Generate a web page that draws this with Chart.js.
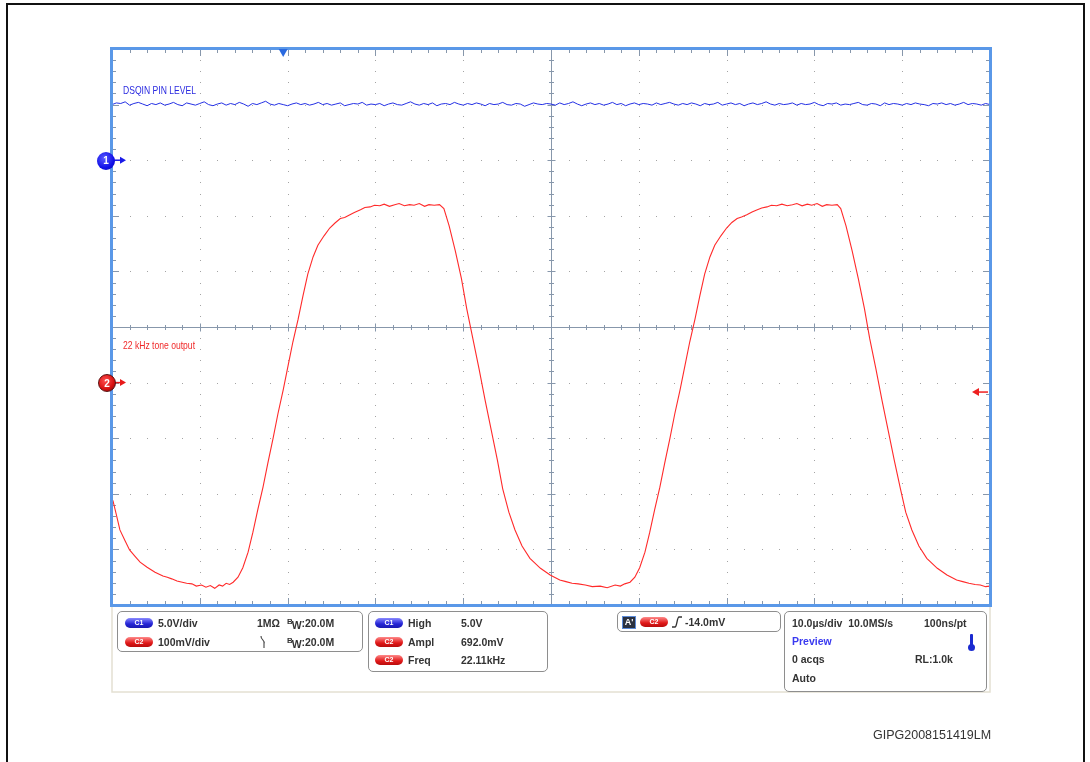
<!DOCTYPE html>
<html>
<head>
<meta charset="utf-8">
<script src="https://cdn.jsdelivr.net/npm/chart.js@4.4.1/dist/chart.umd.min.js"></script>
<style>
  body { margin: 0; background: #fff; overflow: hidden; }
  #wrap { position: relative; width: 1090px; height: 762px; }
  #scope { position: absolute; left: 0; top: 0; }
  .pageframe { position: absolute; left: 6px; top: 3px; width: 1079px; height: 800px; border: 2.5px solid #111; box-sizing: border-box; }
  .t { position: absolute; font-family: 'Liberation Sans', Arial, sans-serif; font-weight: bold; font-size: 10.5px; line-height: 12px; color: #333; white-space: nowrap; }
  .box { position: absolute; border: 1px solid #8e8e8e; border-radius: 5px; box-sizing: border-box; background: #fff; }
  .pill { position: absolute; width: 28px; height: 10px; border-radius: 5px; color: #fff; font: bold 7px 'Liberation Sans', Arial, sans-serif; line-height: 10px; text-align: center; }
  .p1 { background: linear-gradient(#8a8aff, #2424d6 60%, #1a1ab0); }
  .p2 { background: linear-gradient(#ff8a8a, #e01818 60%, #b80c0c); }
  .lbl { position: absolute; font-family: 'Liberation Sans', Arial, sans-serif; font-size: 11px; line-height: 12px; transform: scaleX(0.78); transform-origin: left center; white-space: nowrap; }
  .mk { position: absolute; width: 18px; height: 18px; border-radius: 50%; color: #fff; font: bold 10px 'Liberation Sans', Arial, sans-serif; line-height: 18px; text-align: center; box-sizing: border-box; }
  .bw b { font-size: 8px; position: relative; top: -3px; }
  .bw i { font-style: normal; position: relative; top: 2px; margin-left: -1px; }
</style>
</head>
<body>
<div id="wrap">
  <canvas id="scope" width="1090" height="762"></canvas>
  <div class="pageframe"></div>

  <div class="lbl" style="left:123px; top:84px; color:#2a2ae0;">DSQIN PIN LEVEL</div>
  <div class="lbl" style="left:123px; top:339px; color:#f02a2a;">22 kHz tone output</div>

  <div class="mk" style="left:97px; top:152px; background: radial-gradient(circle at 40% 35%, #5a5aff, #1010e8 60%, #0a0ab0);">1</div>
  <div class="mk" style="left:98px; top:374px; background: radial-gradient(circle at 40% 35%, #ff5050, #d81010 60%, #6a0808); border: 1px solid #5a1010;">2</div>

  <!-- vertical / horizontal settings -->
  <div class="box" style="left:117px; top:611px; width:246px; height:41px;"></div>
  <div class="pill p1" style="left:125px; top:618px;">C1</div>
  <div class="t" style="left:158px; top:617px;">5.0V/div</div>
  <div class="t" style="left:257px; top:617px;">1MΩ</div>
  <div class="t bw" style="left:287px; top:617px;"><b>B</b><i>W</i>:20.0M</div>
  <div class="pill p2" style="left:125px; top:637px;">C2</div>
  <div class="t" style="left:158px; top:636px;">100mV/div</div>
  <svg style="position:absolute; left:259px; top:635px;" width="8" height="14"><path d="M2,1 C2,6 6,4 5,9 L5,13" fill="none" stroke="#444" stroke-width="1.1"/></svg>
  <div class="t bw" style="left:287px; top:636px;"><b>B</b><i>W</i>:20.0M</div>

  <!-- measurements -->
  <div class="box" style="left:368px; top:611px; width:180px; height:61px;"></div>
  <div class="pill p1" style="left:375px; top:618px;">C1</div>
  <div class="t" style="left:408px; top:617px;">High</div>
  <div class="t" style="left:461px; top:617px;">5.0V</div>
  <div class="pill p2" style="left:375px; top:637px;">C2</div>
  <div class="t" style="left:408px; top:636px;">Ampl</div>
  <div class="t" style="left:461px; top:636px;">692.0mV</div>
  <div class="pill p2" style="left:375px; top:655px;">C2</div>
  <div class="t" style="left:408px; top:654px;">Freq</div>
  <div class="t" style="left:461px; top:654px;">22.11kHz</div>

  <!-- trigger -->
  <div class="box" style="left:617px; top:611px; width:164px; height:21px;"></div>
  <div style="position:absolute; left:622px; top:616px; width:14px; height:13px; background:#2a3140; border:1px solid #5a8ad8; box-sizing:border-box; color:#fff; font:bold 9px 'Liberation Sans', Arial, sans-serif; line-height:11px; text-align:center;">A'</div>
  <div class="pill p2" style="left:640px; top:617px;">C2</div>
  <svg style="position:absolute; left:671px; top:615px;" width="12" height="14"><path d="M1,12 L4,12 C6,12 6,2 8,2 L11,2" fill="none" stroke="#333" stroke-width="1.3"/></svg>
  <div class="t" style="left:685px; top:616px;">-14.0mV</div>

  <!-- timebase -->
  <div class="box" style="left:784px; top:611px; width:203px; height:81px;"></div>
  <div class="t" style="left:792px; top:617px;">10.0µs/div&nbsp; 10.0MS/s</div>
  <div class="t" style="left:924px; top:617px;">100ns/pt</div>
  <div class="t" style="left:792px; top:635px; color:#3a3af0;">Preview</div>
  <div style="position:absolute; left:970px; top:634px; width:3px; height:12px; background:#1a2ad0; border-radius:1px;"></div>
  <div style="position:absolute; left:968px; top:644px; width:7px; height:7px; background:#1a2ad0; border-radius:50%;"></div>
  <div class="t" style="left:792px; top:653px;">0 acqs</div>
  <div class="t" style="left:915px; top:653px;">RL:1.0k</div>
  <div class="t" style="left:792px; top:672px;">Auto</div>

  <div class="t" style="left:873px; top:728px; font-weight:normal; font-size:12.5px; line-height:14px; color:#333;">GIPG2008151419LM</div>
</div>

<script>
// Time base: 10 divisions of 10 us, levels in screen divisions (-5..5)
const timeMin = 0;
const timeMax = 100;
const levelMin = -5;
const levelMax = 5;

// C1 (DSQIN pin level), one sample every 0.5 us
const c1Step = 0.5;
const c1Level = [
  4.00,4.03,4.02,4.05,3.99,4.02,4.04,4.01,3.98,4.02,4.00,4.03,3.99,4.01,4.04,4.00,3.98,4.03,4.01,3.99,
  4.02,4.05,4.00,3.98,4.01,4.03,3.99,4.02,4.00,4.04,4.01,3.97,4.02,4.00,4.03,4.06,4.01,3.99,4.02,4.00,
  3.98,4.01,4.03,4.00,4.02,3.99,4.01,4.04,4.00,4.02,3.99,4.01,4.03,3.98,4.00,4.02,4.01,4.04,3.99,4.01,
  4.00,4.02,3.98,4.01,4.03,4.00,3.99,4.02,4.05,4.01,3.99,4.02,4.00,4.03,3.98,4.01,4.02,4.00,4.04,4.01,
  3.99,4.02,4.00,4.03,4.01,3.98,4.02,4.00,4.01,4.04,4.00,3.99,4.02,4.01,3.97,4.00,4.03,4.01,4.00,4.02,
  4.01,3.99,4.03,4.00,4.02,4.05,4.01,3.98,4.01,4.03,4.00,4.02,3.99,4.01,4.04,4.00,4.02,3.98,4.01,4.03,
  4.00,4.02,4.01,3.99,4.03,4.00,4.02,4.04,4.01,3.99,4.02,4.00,4.03,4.01,3.98,4.02,4.00,4.01,4.04,3.99,
  4.01,4.03,4.00,4.02,3.98,4.01,4.03,4.00,4.02,4.05,4.01,3.99,4.02,4.00,4.01,4.03,3.99,4.02,4.00,4.01,
  4.04,4.00,3.98,4.02,4.01,4.03,3.99,4.01,4.00,4.02,4.04,4.00,3.99,4.02,4.01,3.98,4.03,4.00,4.02,4.01,
  3.99,4.02,4.00,4.03,4.01,4.00,3.98,4.02,4.01,4.03,4.00,4.02,3.99,4.01,4.04,4.00,4.02,4.01,3.99,4.02,
  4.00
];

// C2 (22 kHz tone output): [time us, level div]
const c2Trace = [
  [0.1,-3.12],[0.5,-3.38],[0.9,-3.65],[1.5,-3.85],[2.0,-4.01],[2.6,-4.12],[3.2,-4.23],[4.0,-4.32],
  [4.9,-4.41],[5.8,-4.48],[6.3,-4.50],[6.8,-4.53],[7.4,-4.57],[8.0,-4.59],[8.5,-4.61],[9.1,-4.62],
  [9.6,-4.66],[10.2,-4.64],[10.7,-4.68],[11.2,-4.65],[11.7,-4.70],[12.2,-4.64],[12.6,-4.66],[13.0,-4.61],
  [13.4,-4.63],[13.8,-4.59],[14.35,-4.50],[14.9,-4.33],[15.5,-4.05],[16.05,-3.69],[16.6,-3.29],[17.2,-2.88],
  [17.75,-2.45],[18.35,-2.00],[18.9,-1.56],[19.5,-1.13],[20.05,-0.70],[20.6,-0.27],[21.2,0.14],[21.75,0.56],
  [22.3,0.95],[22.9,1.26],[23.45,1.47],[24.15,1.64],[24.8,1.78],[25.4,1.87],[26.0,1.95],[26.5,1.97],
  [27.1,2.02],[27.6,2.06],
  [28.3,2.11],[28.8,2.15],[29.4,2.16],[29.9,2.19],[30.5,2.18],[31.0,2.21],[31.6,2.17],[32.2,2.20],
  [32.7,2.22],[33.3,2.18],[33.9,2.20],[34.4,2.19],[35.0,2.22],[35.6,2.17],[36.1,2.20],[36.7,2.19],
  [37.3,2.20],[37.8,2.13],[38.4,1.82],[39.1,1.37],[39.8,0.87],[40.4,0.33],[41.1,-0.21],[41.8,-0.75],
  [42.5,-1.32],[43.2,-1.86],[43.9,-2.40],[44.5,-2.91],[45.2,-3.33],[45.9,-3.65],[46.7,-3.94],[47.6,-4.16],
  [48.8,-4.34],[49.9,-4.46],[51.0,-4.55],[51.7,-4.58],[52.4,-4.61],[53.1,-4.62],[53.9,-4.64],[54.7,-4.67],
  [55.6,-4.66],[56.4,-4.69],[57.3,-4.64],[57.9,-4.66],[58.4,-4.62],[59.0,-4.59],
  [59.55,-4.50],[60.1,-4.33],[60.7,-4.05],[61.25,-3.69],[61.8,-3.29],[62.4,-2.88],[62.95,-2.45],[63.55,-2.00],
  [64.1,-1.56],[64.7,-1.13],[65.25,-0.70],[65.8,-0.27],[66.4,0.14],[66.95,0.56],[67.5,0.95],[68.1,1.26],
  [68.65,1.47],[69.35,1.64],[70.0,1.78],[70.6,1.88],[71.2,1.95],[71.7,1.98],[72.3,2.02],[72.9,2.07],
  [73.5,2.11],[74.0,2.14],
  [74.6,2.16],[75.1,2.19],[75.7,2.18],[76.3,2.21],[76.9,2.18],[77.5,2.20],[78.0,2.22],[78.6,2.18],
  [79.2,2.21],[79.7,2.19],[80.3,2.22],[80.9,2.17],[81.4,2.20],[82.0,2.19],[82.6,2.20],[83.0,2.13],
  [83.6,1.82],[84.3,1.37],[85.0,0.87],[85.7,0.33],[86.3,-0.21],[87.0,-0.75],[87.7,-1.32],[88.4,-1.86],
  [89.1,-2.40],[89.8,-2.91],[90.4,-3.33],[91.1,-3.65],[91.9,-3.94],[92.8,-4.16],[94.0,-4.34],[95.1,-4.46],
  [96.2,-4.55],[96.9,-4.58],[97.6,-4.61],[98.3,-4.63],[98.9,-4.64],[99.5,-4.67],[100.0,-4.66]
];

// markers: channel reference levels and trigger position
const c1Ref = 3;
const c2Ref = -1;
const triggerTime = 19.5;
const triggerLevel = -1.17;

/* Graticule: dotted divisions, centre cross and edge ticks */
const graticule = {
  id: 'graticule',
  beforeDatasetsDraw(chart) {
    const { ctx, chartArea: a, scales: { x, y } } = chart;
    ctx.save();
    ctx.fillStyle = '#a4a4a4';
    for (let i = 1; i < 10; i++) {
      if (i === 5) continue;
      const px = Math.round(x.getPixelForValue(i * 10));
      for (let k = 1; k < 50; k++) {
        ctx.fillRect(px, Math.round(y.getPixelForValue(levelMin + k * 0.2)), 1, 1);
      }
    }
    for (let j = -4; j <= 4; j++) {
      if (j === 0) continue;
      const py = Math.round(y.getPixelForValue(j));
      for (let k = 1; k < 50; k++) {
        ctx.fillRect(Math.round(x.getPixelForValue(k * 2)), py, 1, 1);
      }
    }
    // centre cross
    const cx = Math.round(x.getPixelForValue(50)) + 0.5;
    const cy = Math.round(y.getPixelForValue(0)) + 0.5;
    ctx.strokeStyle = '#8797ab';
    ctx.lineWidth = 1;
    ctx.beginPath();
    ctx.moveTo(a.left, cy); ctx.lineTo(a.right, cy);
    ctx.moveTo(cx, a.top); ctx.lineTo(cx, a.bottom);
    for (let k = 1; k < 50; k++) {
      const px = Math.round(x.getPixelForValue(k * 2)) + 0.5;
      const len = k % 5 === 0 ? 4 : 2.5;
      ctx.moveTo(px, cy - len); ctx.lineTo(px, cy + len);
      const py = Math.round(y.getPixelForValue(levelMin + k * 0.2)) + 0.5;
      ctx.moveTo(cx - len, py); ctx.lineTo(cx + len, py);
    }
    // edge ticks
    for (let k = 1; k < 50; k++) {
      const px = Math.round(x.getPixelForValue(k * 2)) + 0.5;
      const py = Math.round(y.getPixelForValue(levelMin + k * 0.2)) + 0.5;
      const len = k % 5 === 0 ? 7 : 4;
      ctx.moveTo(px, a.top); ctx.lineTo(px, a.top + len);
      ctx.moveTo(px, a.bottom); ctx.lineTo(px, a.bottom - len);
      ctx.moveTo(a.left, py); ctx.lineTo(a.left + len, py);
      ctx.moveTo(a.right, py); ctx.lineTo(a.right - len, py);
    }
    ctx.stroke();
    ctx.restore();
  },
  afterDatasetsDraw(chart) {
    const { ctx, chartArea: a, scales: { x, y } } = chart;
    ctx.save();
    // readout area outline
    ctx.strokeStyle = '#e4e0d2';
    ctx.lineWidth = 1.5;
    ctx.strokeRect(a.left, a.bottom, a.right - a.left, 87);
    // screen frame
    ctx.strokeStyle = '#5a98e8';
    ctx.lineWidth = 3;
    ctx.strokeRect(a.left - 0.5, a.top - 0.5, a.right - a.left + 1, a.bottom - a.top + 1);
    // trigger position
    const tx = x.getPixelForValue(triggerTime);
    ctx.fillStyle = '#2a6ae0';
    ctx.beginPath();
    ctx.moveTo(tx - 4.5, a.top); ctx.lineTo(tx + 4.5, a.top); ctx.lineTo(tx, a.top + 8);
    ctx.closePath(); ctx.fill();
    // channel reference arrows
    const arrowRight = (py, col) => {
      ctx.strokeStyle = col; ctx.fillStyle = col; ctx.lineWidth = 1.5;
      ctx.beginPath(); ctx.moveTo(a.left + 2, py); ctx.lineTo(a.left + 10, py); ctx.stroke();
      ctx.beginPath(); ctx.moveTo(a.left + 14, py); ctx.lineTo(a.left + 8, py - 3.5); ctx.lineTo(a.left + 8, py + 3.5);
      ctx.closePath(); ctx.fill();
    };
    arrowRight(y.getPixelForValue(c1Ref), '#1a1ae8');
    arrowRight(y.getPixelForValue(c2Ref), '#e81a1a');
    // trigger level arrow
    const ty = y.getPixelForValue(triggerLevel);
    ctx.strokeStyle = '#ee2020'; ctx.fillStyle = '#ee2020'; ctx.lineWidth = 1.5;
    ctx.beginPath(); ctx.moveTo(a.right - 2, ty); ctx.lineTo(a.right - 12, ty); ctx.stroke();
    ctx.beginPath(); ctx.moveTo(a.right - 18, ty); ctx.lineTo(a.right - 11, ty - 4); ctx.lineTo(a.right - 11, ty + 4);
    ctx.closePath(); ctx.fill();
    ctx.restore();
  }
};

new Chart(document.getElementById('scope'), {
  type: 'line',
  data: {
    datasets: [
      {
        label: 'C1',
        data: c1Level.map(function(v, i) { return { x: i * c1Step, y: v }; }),
        borderColor: '#2430e4',
        borderWidth: 1,
        pointRadius: 0
      },
      {
        label: 'C2',
        data: c2Trace.map(function(p) { return { x: p[0], y: p[1] }; }),
        borderColor: '#ff2a2a',
        borderWidth: 1.1,
        pointRadius: 0
      }
    ]
  },
  options: {
    responsive: false,
    animation: false,
    devicePixelRatio: 1,
    layout: { padding: { left: 112, right: 100, top: 49, bottom: 157 } },
    scales: {
      x: { type: 'linear', min: timeMin, max: timeMax, display: false },
      y: { type: 'linear', min: levelMin, max: levelMax, display: false }
    },
    plugins: { legend: { display: false }, tooltip: { enabled: false } }
  },
  plugins: [graticule]
});
</script>
</body>
</html>
